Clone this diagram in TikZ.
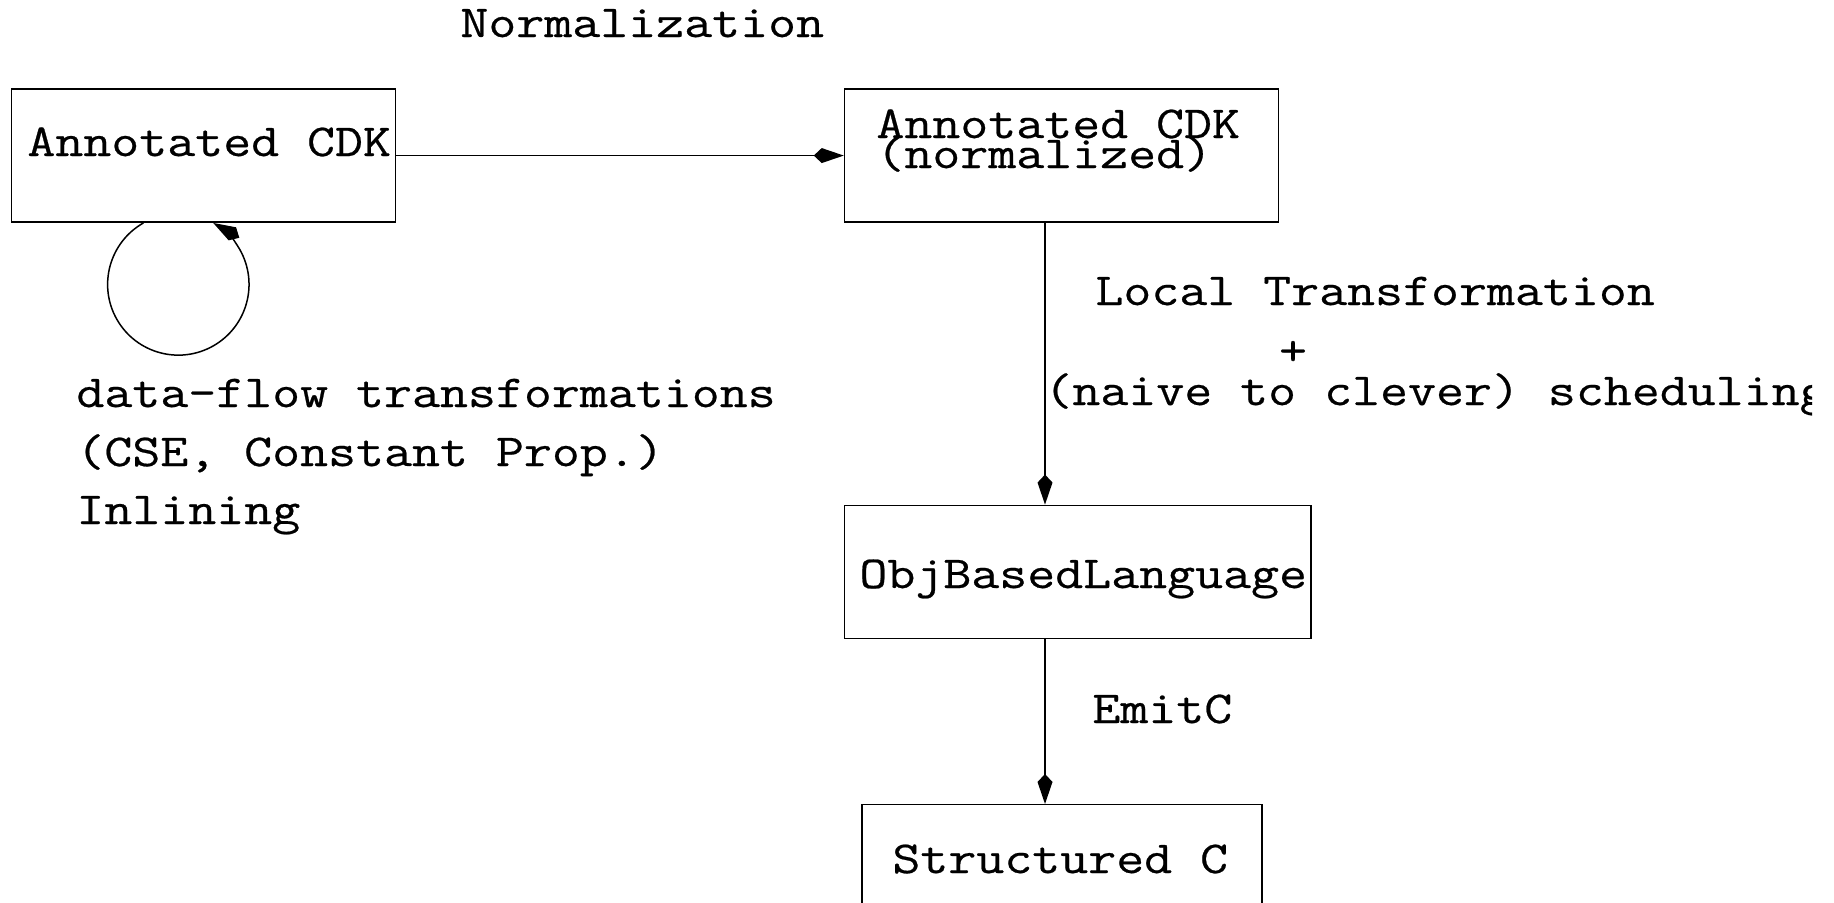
\documentclass[tikz,border=0pt]{standalone}
\usepackage{fontspec}
\newfontfamily\monofnt[FakeStretch=1.186,FakeBold=0.5]{Latin Modern Mono}
\usetikzlibrary{arrows.meta}
\begin{document}
\begin{tikzpicture}[x=0.5pt,y=-0.5pt,
  lw/.style={line width=0.75pt},
  box/.style={draw,lw,inner sep=0pt,minimum height=66.65pt},
  lbl/.style={anchor=base west,inner sep=0pt,font=\monofnt\fontsize{22.9}{28}\selectfont},
  arr/.style={lw,-{Kite[length=15pt,width=7.5pt,inset=4pt]}}]
\useasboundingbox (0,0) rectangle (1834,902);
\clip (0,0) rectangle (1812,902);
% boxes
\node[box,minimum width=191.8pt] (b1) at (203.5,155.55) {};
\node[box,minimum width=216.95pt] (b2) at (1061.45,155.55) {};
\node[box,minimum width=233.3pt] (b3) at (1077.8,571.95) {};
\node[box,minimum width=200pt] (b4) at (1062,871.35) {};
% texts
\node[lbl] (tn) at (460,37) {Normalization};
\node[lbl] (t1) at (27,156) {Annotated CDK};
\node[lbl] (t2a) at (876,138) {Annotated CDK};
\node[lbl] (t2b) at (876,168) {(normalized)};
\node[lbl] (t3) at (859,588) {ObjBasedLanguage};
\node[lbl] (t4) at (892,873) {Structured C};
\node[lbl] (tl) at (1095,305) {Local Transformation};
\node[lbl,anchor=base] (tp) at (1293,365) {+};
\node[lbl] (ts) at (1044,405) {(naive to clever) scheduling};
\node[lbl] (te) at (1092,723) {EmitC};
\node[lbl] (d1) at (76,407) {data-flow transformations};
\node[lbl] (d2) at (76,466) {(CSE, Constant Prop.)};
\node[lbl] (d3) at (76,524) {Inlining};
% connectors
\coordinate (vx) at (1045,0);
\coordinate (lsx) at (143.4,0);
\draw[arr] (b1.east) -- (b2.west);
\draw[arr] (b2.south -| vx) -- (b3.north -| vx);
\draw[arr] (b3.south -| vx) -- (b4.north -| vx);
\draw[arr] (b1.south -| lsx) arc[start angle=119.6,end angle=420.4,radius=35.35pt];
\end{tikzpicture}
\end{document}
